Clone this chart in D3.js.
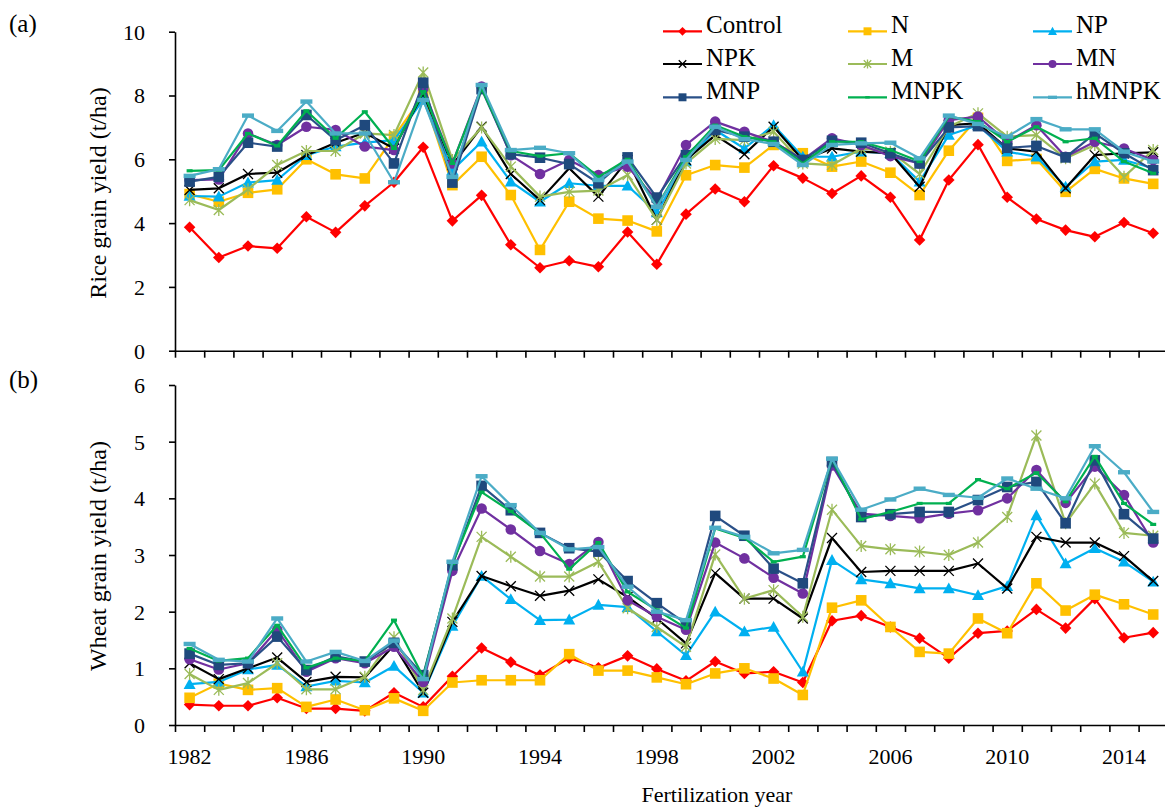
<!DOCTYPE html>
<html>
<head>
<meta charset="utf-8">
<script src="https://cdn.jsdelivr.net/npm/d3@7"></script>
<style>
  body { margin: 0; background: #fff; }
  svg { display: block; }
</style>
</head>
<body>
<svg id="chart" width="1165" height="809"></svg>
<script>
// categories
var years = [1982, 1983, 1984, 1985, 1986, 1987, 1988, 1989, 1990, 1991, 1992, 1993,
             1994, 1995, 1996, 1997, 1998, 1999, 2000, 2001, 2002, 2003, 2004, 2005,
             2006, 2007, 2008, 2009, 2010, 2011, 2012, 2013, 2014, 2015];
var yearLabels = [1982, 1986, 1990, 1994, 1998, 2002, 2006, 2010, 2014];
var riceTicks = [0, 2, 4, 6, 8, 10];
var wheatTicks = [0, 1, 2, 3, 4, 5, 6];

// (a) rice grain yield, t/ha
var riceControl = [3.87, 2.92, 3.28, 3.21, 4.20, 3.71, 4.54, 5.28, 6.38, 4.07, 4.87, 3.32, 2.60, 2.82, 2.63, 3.72, 2.71,
                   4.28, 5.07, 4.67, 5.80, 5.41, 4.93, 5.48, 4.81, 3.47, 5.35, 6.46, 4.81, 4.13, 3.78, 3.57, 4.02, 3.68];
var riceN       = [4.91, 4.67, 4.95, 5.06, 6.00, 5.53, 5.40, 6.71, 8.00, 5.19, 6.08, 4.88, 3.16, 4.67, 4.14, 4.08, 3.74,
                   5.50, 5.82, 5.74, 6.45, 6.19, 5.77, 5.93, 5.58, 4.88, 6.27, 7.30, 5.95, 6.01, 4.98, 5.70, 5.40, 5.23];
var riceNP      = [4.85, 4.83, 5.27, 5.35, 6.13, 6.40, 6.52, 6.60, 7.86, 5.66, 6.55, 5.30, 4.67, 5.25, 5.17, 5.17, 4.33,
                   5.93, 6.92, 6.34, 7.07, 6.08, 6.08, 6.24, 6.19, 5.30, 6.76, 7.07, 6.24, 6.08, 5.14, 5.93, 5.98, 5.72];
var riceNPK     = [5.04, 5.09, 5.54, 5.58, 6.13, 6.52, 6.83, 6.34, 8.07, 5.82, 7.02, 5.54, 4.72, 5.72, 4.83, 5.98, 4.10,
                   5.98, 6.76, 6.16, 7.02, 5.98, 6.34, 6.24, 6.19, 5.14, 7.07, 7.13, 6.34, 6.24, 5.09, 6.13, 6.19, 6.22];
var riceM       = [4.72, 4.41, 5.06, 5.82, 6.26, 6.26, 6.81, 6.76, 8.72, 5.98, 7.00, 5.77, 4.83, 4.98, 5.02, 5.51, 4.10,
                   5.87, 6.64, 6.60, 6.86, 5.87, 5.82, 6.34, 6.24, 5.54, 7.02, 7.44, 6.71, 6.76, 6.03, 6.45, 5.45, 6.29];
var riceMN      = [5.35, 5.37, 6.81, 6.45, 7.02, 6.92, 6.40, 6.29, 8.22, 5.87, 8.28, 6.13, 5.54, 5.98, 5.51, 5.77, 4.72,
                   6.45, 7.18, 6.86, 6.55, 5.98, 6.66, 6.45, 6.10, 5.87, 7.23, 7.34, 6.55, 7.07, 6.08, 6.55, 6.34, 5.98];
var riceMNP     = [5.30, 5.45, 6.52, 6.40, 7.39, 6.60, 7.07, 5.87, 8.40, 5.27, 8.20, 6.16, 6.05, 5.85, 5.25, 6.06, 4.80,
                   6.13, 6.92, 6.71, 6.55, 5.98, 6.58, 6.52, 6.19, 5.87, 7.00, 7.04, 6.36, 6.42, 6.06, 6.81, 6.19, 5.66];
var riceMNPK    = [5.64, 5.66, 6.81, 6.42, 7.52, 6.66, 7.49, 6.34, 8.12, 5.87, 8.22, 6.26, 6.10, 6.19, 5.45, 6.00, 4.51,
                   6.08, 7.07, 6.71, 6.55, 5.87, 6.55, 6.55, 6.29, 5.93, 7.34, 7.18, 6.55, 7.02, 6.55, 6.66, 5.93, 5.56];
var riceHMNPK   = [5.48, 5.69, 7.37, 6.89, 7.81, 6.81, 6.81, 5.28, 7.86, 5.45, 8.33, 6.29, 6.36, 6.19, 5.35, 5.93, 4.51,
                   5.98, 7.02, 6.63, 6.48, 5.82, 6.45, 6.50, 6.52, 6.03, 7.37, 7.11, 6.71, 7.26, 6.94, 6.94, 6.24, 5.93];

// (b) wheat grain yield, t/ha
var wheatControl = [0.36, 0.34, 0.34, 0.48, 0.29, 0.29, 0.25, 0.57, 0.32, 0.86, 1.36, 1.11, 0.88, 1.18, 1.01, 1.22, 0.99,
                    0.78, 1.12, 0.91, 0.94, 0.75, 1.84, 1.93, 1.73, 1.53, 1.18, 1.62, 1.66, 2.04, 1.71, 2.23, 1.54, 1.63];
var wheatN       = [0.48, 0.73, 0.62, 0.65, 0.32, 0.45, 0.26, 0.47, 0.25, 0.75, 0.79, 0.79, 0.79, 1.25, 0.96, 0.96, 0.84,
                    0.72, 0.91, 1.00, 0.82, 0.53, 2.07, 2.20, 1.73, 1.29, 1.26, 1.88, 1.62, 2.50, 2.02, 2.30, 2.13, 1.95];
var wheatNP      = [0.72, 0.76, 0.98, 1.06, 0.68, 0.78, 0.75, 1.04, 0.57, 1.75, 2.63, 2.22, 1.85, 1.86, 2.12, 2.08, 1.65,
                    1.23, 2.00, 1.65, 1.73, 0.94, 2.91, 2.57, 2.50, 2.41, 2.41, 2.29, 2.45, 3.70, 2.85, 3.12, 2.88, 2.53];
var wheatNPK     = [1.09, 0.81, 1.00, 1.19, 0.76, 0.85, 0.84, 1.41, 0.57, 1.82, 2.63, 2.45, 2.28, 2.37, 2.57, 2.26, 1.88,
                    1.44, 2.68, 2.23, 2.23, 1.88, 3.30, 2.70, 2.72, 2.72, 2.72, 2.85, 2.41, 3.32, 3.22, 3.22, 2.98, 2.54];
var wheatM       = [0.90, 0.62, 0.74, 1.09, 0.63, 0.63, 0.85, 1.55, 0.62, 1.88, 3.32, 2.97, 2.62, 2.62, 2.88, 2.06, 1.73,
                    1.38, 3.01, 2.23, 2.38, 1.91, 3.80, 3.16, 3.10, 3.06, 3.00, 3.22, 3.67, 5.11, 3.56, 4.26, 3.39, 3.34];
var wheatMN      = [1.16, 0.98, 1.09, 1.68, 0.94, 1.18, 1.09, 1.38, 0.76, 2.72, 3.82, 3.45, 3.07, 2.84, 3.23, 2.20, 1.91,
                    1.68, 3.22, 2.94, 2.60, 2.32, 4.58, 3.73, 3.69, 3.65, 3.73, 3.79, 4.00, 4.50, 3.92, 4.56, 4.06, 3.22];
var wheatMNP     = [1.26, 1.06, 1.09, 1.56, 0.97, 1.21, 1.12, 1.45, 0.88, 2.82, 4.22, 3.79, 3.39, 3.12, 3.06, 2.54, 2.15,
                    1.79, 3.69, 3.34, 2.76, 2.50, 4.64, 3.67, 3.72, 3.76, 3.76, 3.97, 4.20, 4.29, 3.56, 4.67, 3.72, 3.29];
var wheatMNPK    = [1.35, 1.13, 1.18, 1.76, 1.01, 1.18, 1.13, 1.85, 0.85, 2.85, 4.11, 3.77, 3.39, 2.75, 3.22, 2.35, 2.03,
                    1.71, 3.47, 3.30, 2.88, 2.97, 4.70, 3.63, 3.76, 3.91, 3.91, 4.33, 4.17, 4.45, 3.94, 4.74, 3.91, 3.54];
var wheatHMNPK   = [1.43, 1.15, 1.12, 1.88, 1.12, 1.29, 1.13, 1.49, 0.81, 2.88, 4.39, 3.88, 3.39, 3.10, 3.14, 2.44, 2.00,
                    1.85, 3.48, 3.32, 3.03, 3.09, 4.70, 3.80, 3.98, 4.17, 4.06, 4.01, 4.35, 4.17, 4.00, 4.92, 4.46, 3.76];

var series = [
  { name: 'Control', color: '#FF0000', marker: 'diamond',  rice: riceControl, wheat: wheatControl },
  { name: 'N',       color: '#FFC000', marker: 'square',   rice: riceN,       wheat: wheatN },
  { name: 'NP',      color: '#00B0F0', marker: 'triangle', rice: riceNP,      wheat: wheatNP },
  { name: 'NPK',     color: '#000000', marker: 'x',        rice: riceNPK,     wheat: wheatNPK },
  { name: 'M',       color: '#9BBB59', marker: 'star',     rice: riceM,       wheat: wheatM },
  { name: 'MN',      color: '#7030A0', marker: 'circle',   rice: riceMN,      wheat: wheatMN },
  { name: 'MNP',     color: '#2A5088', fill: '#1F497D', marker: 'square', rice: riceMNP, wheat: wheatMNP },
  { name: 'MNPK',    color: '#00B050', marker: 'dash',     rice: riceMNPK,    wheat: wheatMNPK },
  { name: 'hMNPK',   color: '#4BACC6', marker: 'bar',      rice: riceHMNPK,   wheat: wheatHMNPK }
];

var svg = d3.select('#chart');

// category axis: one slot per year, points in the middle of the slot
var x = d3.scaleLinear().domain([years[0] - 0.5, years[years.length - 1] + 0.5]).range([175, 1167.8]);
var slotEdges = years.map(function(d) { return d - 0.5; }).concat([years[years.length - 1] + 0.5]);

var panels = [
  { key: 'rice',  top: 31.7, bottom: 350.7, max: 10, ticks: riceTicks,  title: 'Rice grain yield (t/ha)',  tag: '(a)', titleY: 193 },
  { key: 'wheat', top: 385,  bottom: 725,   max: 6,  ticks: wheatTicks, title: 'Wheat grain yield (t/ha)', tag: '(b)', titleY: 556 }
];

// draw a marker into g.sel; g.size shrinks it for the legend
function drawMarker(g, s, cx, cy, marker) {
  var c = s.color, f = s.fill || s.color;
  var k = g.size;
  var el = g.sel;
  if (marker === 'diamond') {
    var r = 5.8 * k;
    el.append('path').attr('d', 'M' + cx + ',' + (cy - r) + 'L' + (cx + r) + ',' + cy + 'L' + cx + ',' + (cy + r) + 'L' + (cx - r) + ',' + cy + 'Z').attr('fill', f);
  } else if (marker === 'square') {
    var h = 5.3 * k;
    el.append('rect').attr('x', cx - h).attr('y', cy - h).attr('width', 2 * h).attr('height', 2 * h).attr('fill', f);
  } else if (marker === 'triangle') {
    var t = 6 * k;
    el.append('path').attr('d', 'M' + cx + ',' + (cy - t) + 'L' + (cx + t) + ',' + (cy + t * 0.8) + 'L' + (cx - t) + ',' + (cy + t * 0.8) + 'Z').attr('fill', f);
  } else if (marker === 'circle') {
    el.append('circle').attr('cx', cx).attr('cy', cy).attr('r', 5.3 * k).attr('fill', f);
  } else if (marker === 'x') {
    var a = 5 * k;
    el.append('path').attr('d', 'M' + (cx - a) + ',' + (cy - a) + 'L' + (cx + a) + ',' + (cy + a) + 'M' + (cx - a) + ',' + (cy + a) + 'L' + (cx + a) + ',' + (cy - a))
      .attr('stroke', c).attr('stroke-width', 1.3).attr('fill', 'none');
  } else if (marker === 'star') {
    var b = 5 * k;
    el.append('path').attr('d', 'M' + (cx - b) + ',' + (cy - b) + 'L' + (cx + b) + ',' + (cy + b) + 'M' + (cx - b) + ',' + (cy + b) + 'L' + (cx + b) + ',' + (cy - b) +
        'M' + cx + ',' + (cy - b * 1.2) + 'L' + cx + ',' + (cy + b * 1.2))
      .attr('stroke', c).attr('stroke-width', 1.3).attr('fill', 'none');
  } else if (marker === 'dash') {
    el.append('rect').attr('x', cx - 3 * k).attr('y', cy - 1.6 * k).attr('width', 6 * k).attr('height', 3.2 * k).attr('fill', f);
  } else if (marker === 'bar') {
    el.append('rect').attr('x', cx - 6 * k).attr('y', cy - 2.2 * k).attr('width', 12 * k).attr('height', 4.4 * k).attr('fill', f);
  }
}

panels.forEach(function(p) {
  var y = d3.scaleLinear().domain([0, p.max]).range([p.bottom, p.top]);

  // y axis
  var ya = svg.append('g').attr('transform', 'translate(175,0)')
    .call(d3.axisLeft(y).tickValues(p.ticks).tickSize(6).tickSizeOuter(0).tickPadding(24).tickFormat(d3.format('d')));
  ya.selectAll('text').attr('font-size', 22).attr('dy', '0.34em').attr('fill', '#000');

  // x axis (ticks between categories)
  svg.append('g').attr('transform', 'translate(0,' + p.bottom + ')')
    .call(d3.axisBottom(x).tickValues(slotEdges).tickSize(7).tickSizeOuter(0).tickFormat(''));

  svg.selectAll('.domain, .tick line').attr('stroke', '#000').attr('stroke-width', 1.6);

  // y title
  svg.append('text')
    .attr('transform', 'translate(106,' + p.titleY + ') rotate(-90)')
    .attr('text-anchor', 'middle').attr('font-size', 24)
    .text(p.title);

  // panel tag
  svg.append('text').attr('x', 9).attr('y', p.top + (p.key === 'rice' ? 0 : 3))
    .attr('font-size', 25).text(p.tag);

  var line = d3.line()
    .x(function(d, i) { return x(years[i]); })
    .y(function(d) { return y(d); });

  var g = svg.append('g');
  series.forEach(function(s) {
    var vals = s[p.key];
    g.append('path').datum(vals)
      .attr('d', line)
      .attr('fill', 'none')
      .attr('stroke', s.color)
      .attr('stroke-width', 2.2)
      .attr('stroke-linejoin', 'round');
    var mg = { sel: g.append('g'), size: 1 };
    vals.forEach(function(v, i) {
      drawMarker(mg, s, x(years[i]), y(v), s.marker);
    });
  });

  // year labels under the bottom panel only
  if (p.key === 'wheat') {
    svg.append('g').selectAll('text')
      .data(yearLabels).enter().append('text')
      .attr('x', function(d) { return x(d); })
      .attr('y', 764)
      .attr('text-anchor', 'middle')
      .attr('font-size', 22)
      .text(function(d) { return d; });
  }
});

// x title
svg.append('text').attr('x', 717).attr('y', 802)
  .attr('text-anchor', 'middle').attr('font-size', 22)
  .text('Fertilization year');

// legend, 3 x 3
var legCols = [663, 848, 1033];
var legRows = [33.3, 66, 99.3];
var leg = svg.append('g');
series.forEach(function(s, i) {
  var lx = legCols[i % 3], ly = legRows[Math.floor(i / 3)];
  var cy = ly - 2;
  leg.append('line').attr('x1', lx).attr('x2', lx + 39).attr('y1', cy).attr('y2', cy)
    .attr('stroke', s.color).attr('stroke-width', 2.2);
  drawMarker({ sel: leg, size: 0.75 }, s, lx + 19.5, cy, s.marker);
  leg.append('text').attr('x', lx + 43).attr('y', ly).attr('font-size', 25).text(s.name);
});

// serif everywhere (inline style so the axis default does not win)
svg.selectAll('text').style('font-family', "'Liberation Serif'").style('fill', '#000');
</script>
</body>
</html>
